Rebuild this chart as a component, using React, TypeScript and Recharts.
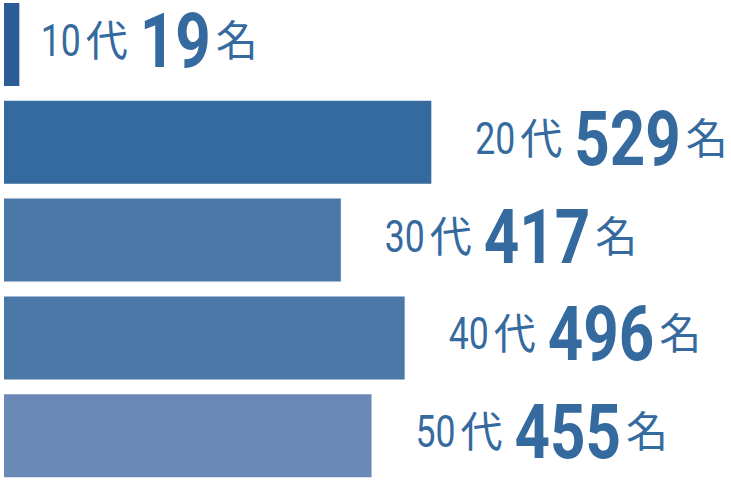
import React from 'react';
import { BarChart, Bar, XAxis, YAxis, Cell, LabelList } from 'recharts';

const categories = ['10代', '20代', '30代', '40代', '50代'];
const ages = ['10', '20', '30', '40', '50'];
const counts = [19, 529, 417, 496, 455];
const barColors = ['#2c5d96', '#356a9e', '#4a79a8', '#4a79a8', '#6a89b6'];

const data = categories.map((c, i) => ({ name: c, age: ages[i], value: counts[i] }));

const TEXT_COLOR = '#356a9f';
const DIGITS = "'Roboto', 'DejaVu Sans', sans-serif";
const CJK = "'Noto Sans CJK JP', 'Noto Sans', sans-serif";

const renderLabel = (props: any) => {
  const { x, y, width, height, index } = props;
  const d = data[index];
  const off = Math.min(44, width + 6);
  const cy = y + height / 2;
  const num = String(d.value);
  return (
    <text x={x + width + off} y={cy + 11.5} fill={TEXT_COLOR}>
      <tspan fontFamily={DIGITS} fontSize={45} textLength={d.age.length * 20} lengthAdjust="spacingAndGlyphs">
        {d.age}
      </tspan>
      <tspan fontFamily={CJK} fontSize={42} dx={5}>代</tspan>
      <tspan
        fontFamily={DIGITS}
        fontWeight="bold"
        fontSize={76}
        dx={12}
        dy={11}
        textLength={num.length * 35.5}
        lengthAdjust="spacingAndGlyphs"
      >
        {num}
      </tspan>
      <tspan fontFamily={CJK} fontSize={42} dx={5} dy={-11}>名</tspan>
    </text>
  );
};

export default function App() {
  return (
    <div style={{ position: 'absolute', left: 0, top: -4 }}>
      <BarChart
        width={731}
        height={489}
        data={data}
        layout="vertical"
        margin={{ top: 0, right: 0, bottom: 0, left: 4 }}
      >
        <XAxis type="number" domain={[0, 900]} hide />
        <YAxis type="category" dataKey="name" hide />
        <Bar dataKey="value" barSize={83} isAnimationActive={false}>
          {data.map((d, i) => (
            <Cell key={d.name} fill={barColors[i]} />
          ))}
          <LabelList dataKey="value" content={renderLabel} />
        </Bar>
      </BarChart>
    </div>
  );
}
